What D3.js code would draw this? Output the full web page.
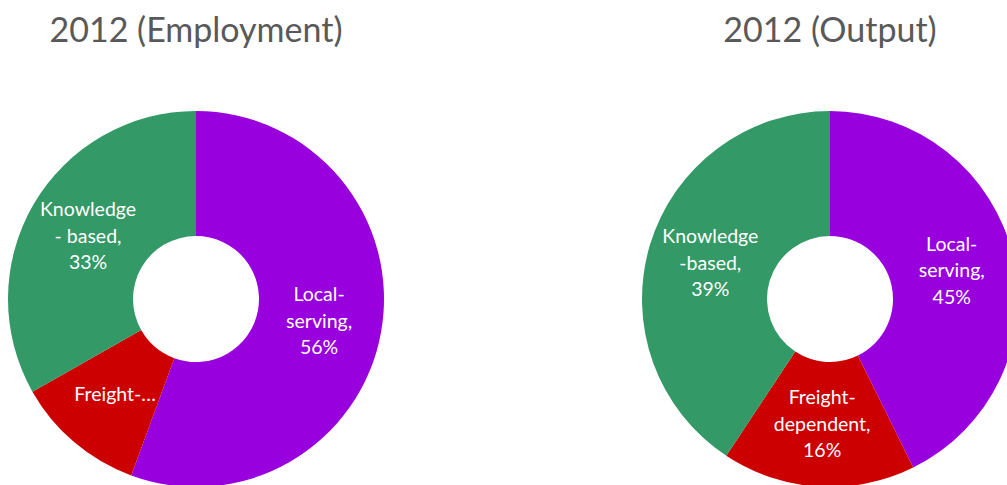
<!DOCTYPE html>
<html>
<head>
<meta charset="utf-8">
<script src="https://cdn.jsdelivr.net/npm/d3@7"></script>
<style>
  html, body { margin: 0; padding: 0; background: #fff; overflow: hidden; }
  svg { display: block; }
</style>
</head>
<body>
<svg id="chart" width="1007" height="485"></svg>
<script>
const categories = ["Local-serving", "Freight-dependent", "Knowledge-based"];
const employmentValues = [55.6, 11.2, 33.2];
const outputValues = [42.7, 16.6, 40.7];
const employmentLabels = [["Local-", "serving,", "56%"], ["Freight-…"], ["Knowledge", "- based,", "33%"]];
const outputLabels = [["Local-", "serving,", "45%"], ["Freight-", "dependent,", "16%"], ["Knowledge", "-based,", "39%"]];
const titles = ["2012 (Employment)", "2012 (Output)"];
const colors = ["#9900DE", "#CC0000", "#339966"];

const svg = d3.select("#chart");
const color = d3.scaleOrdinal().domain(categories).range(colors);
const R = 188, r = 63;
const arc = d3.arc().innerRadius(r).outerRadius(R);
const labelArc = d3.arc().innerRadius(125).outerRadius(125);
const pie = d3.pie().sort(null).value(d => d.v);

const charts = [
  { cx: 196, cy: 299, values: employmentValues, labels: employmentLabels, title: titles[0] },
  { cx: 830, cy: 299, values: outputValues, labels: outputLabels, title: titles[1] }
];

charts.forEach(c => {
  const data = categories.map((k, i) => ({ k, v: c.values[i], lab: c.labels[i] }));
  const g = svg.append("g").attr("transform", `translate(${c.cx},${c.cy})`);
  const arcs = pie(data);
  g.selectAll("path").data(arcs).join("path")
    .attr("d", arc)
    .attr("fill", d => color(d.data.k));
  const lh = 26.5;
  g.selectAll("text.lab").data(arcs).join("text")
    .attr("class", "lab")
    .attr("text-anchor", "middle")
    .attr("fill", "#fff")
    .style("font-family", "Lato, 'Open Sans', sans-serif")
    .style("font-size", "19.5px")
    .each(function(d) {
      const [x, y] = labelArc.centroid(d);
      const lines = d.data.lab;
      const t = d3.select(this);
      lines.forEach((ln, i) => {
        t.append("tspan")
          .attr("x", x)
          .attr("y", y + (i - (lines.length - 1) / 2) * lh)
          .attr("dy", "0.35em")
          .text(ln);
      });
    });
  svg.append("text")
    .attr("x", c.cx)
    .attr("y", 42)
    .attr("text-anchor", "middle")
    .attr("fill", "#595959")
    .style("font-family", "Lato, 'Open Sans', sans-serif")
    .style("font-size", "34px")
    .text(c.title);
});
</script>
</body>
</html>
